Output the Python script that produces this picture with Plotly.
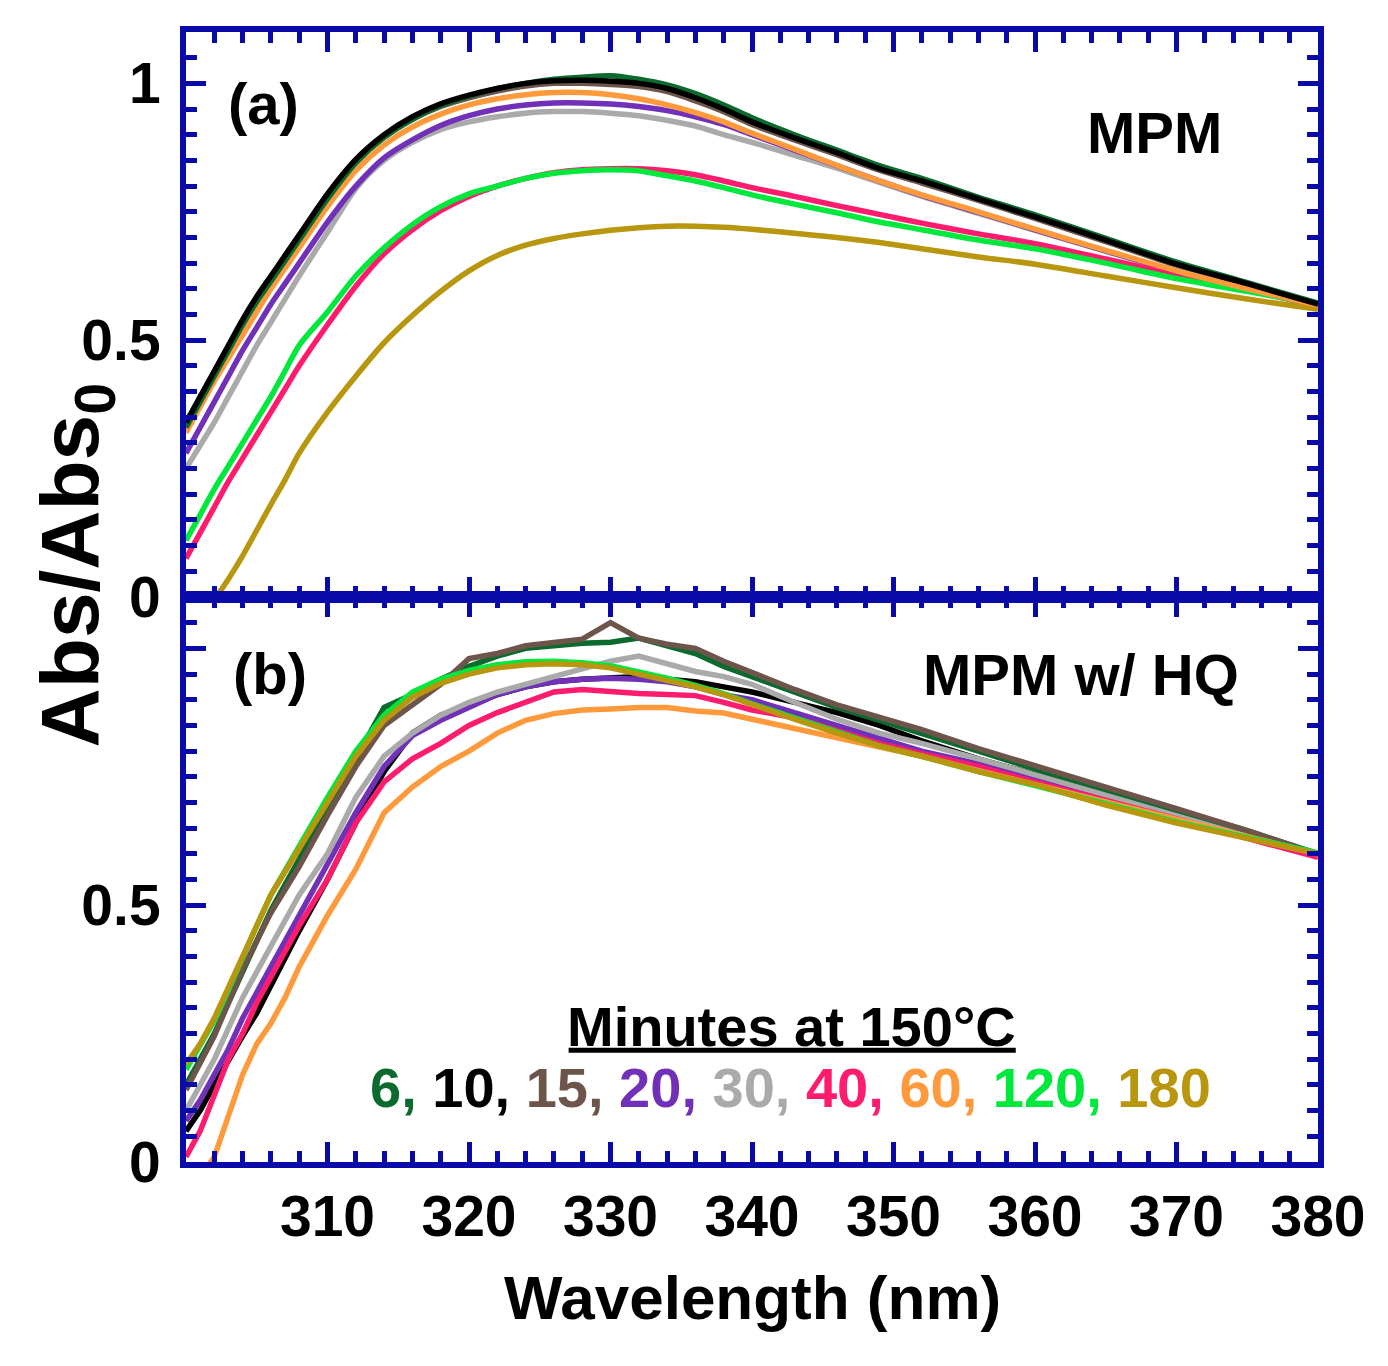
import plotly.graph_objects as go
from plotly.subplots import make_subplots

# Wavelength grid (nm)
wl = [300, 301, 302, 303, 304, 305, 306, 307, 308, 310, 312, 314, 316, 318, 320, 322, 324, 326, 328, 330,
      332, 334, 336, 338, 340, 343, 346, 349, 352, 356, 360, 365, 370, 375, 380]

# ---- Panel (a): MPM ----
a_6 = [0.33, 0.38, 0.43, 0.48, 0.53, 0.575, 0.615, 0.655, 0.695, 0.775, 0.845, 0.895, 0.93, 0.957, 0.975, 0.99, 1.0, 1.008, 1.012, 1.015,
       1.008, 0.997, 0.98, 0.958, 0.933, 0.90, 0.87, 0.84, 0.815, 0.778, 0.744, 0.698, 0.652, 0.612, 0.572]
a_10 = [0.34, 0.39, 0.44, 0.49, 0.54, 0.585, 0.625, 0.665, 0.705, 0.785, 0.852, 0.90, 0.935, 0.96, 0.977, 0.99, 1.0, 1.005, 1.006, 1.004,
        1.0, 0.99, 0.972, 0.95, 0.925, 0.894, 0.865, 0.834, 0.81, 0.775, 0.74, 0.695, 0.648, 0.61, 0.57]
a_15 = [0.335, 0.385, 0.435, 0.485, 0.535, 0.58, 0.62, 0.66, 0.70, 0.78, 0.847, 0.895, 0.93, 0.955, 0.972, 0.985, 0.995, 1.0, 1.0, 0.998,
        0.994, 0.984, 0.966, 0.945, 0.92, 0.89, 0.861, 0.831, 0.806, 0.772, 0.737, 0.692, 0.646, 0.608, 0.569]
a_20 = [0.28, 0.33, 0.38, 0.43, 0.48, 0.525, 0.57, 0.61, 0.65, 0.73, 0.80, 0.855, 0.89, 0.918, 0.937, 0.95, 0.958, 0.962, 0.962, 0.96,
        0.955, 0.947, 0.935, 0.92, 0.90, 0.87, 0.84, 0.81, 0.782, 0.749, 0.715, 0.674, 0.634, 0.599, 0.567]
a_30 = [0.25, 0.295, 0.34, 0.39, 0.44, 0.49, 0.535, 0.58, 0.625, 0.71, 0.795, 0.85, 0.885, 0.91, 0.925, 0.935, 0.942, 0.945, 0.945, 0.942,
        0.937, 0.928, 0.917, 0.90, 0.885, 0.86, 0.835, 0.807, 0.78, 0.747, 0.714, 0.673, 0.633, 0.598, 0.566]
a_40 = [0.075, 0.125, 0.175, 0.225, 0.27, 0.315, 0.36, 0.405, 0.45, 0.53, 0.605, 0.668, 0.715, 0.752, 0.78, 0.80, 0.815, 0.826, 0.832, 0.834,
        0.834, 0.83, 0.822, 0.81, 0.797, 0.78, 0.762, 0.745, 0.728, 0.707, 0.688, 0.658, 0.627, 0.598, 0.568]
a_60 = [0.32, 0.37, 0.42, 0.465, 0.51, 0.555, 0.60, 0.64, 0.68, 0.76, 0.83, 0.88, 0.915, 0.94, 0.958, 0.97, 0.978, 0.982, 0.982, 0.978,
        0.97, 0.958, 0.943, 0.925, 0.903, 0.872, 0.84, 0.81, 0.783, 0.75, 0.716, 0.675, 0.635, 0.60, 0.568]
a_120 = [0.11, 0.16, 0.21, 0.255, 0.30, 0.345, 0.39, 0.44, 0.49, 0.555, 0.625, 0.68, 0.725, 0.76, 0.785, 0.80, 0.815, 0.825, 0.83, 0.832,
         0.83, 0.82, 0.81, 0.797, 0.783, 0.765, 0.748, 0.73, 0.715, 0.695, 0.678, 0.65, 0.62, 0.595, 0.57]
a_180 = [-0.07, -0.035, -0.005, 0.035, 0.08, 0.13, 0.18, 0.228, 0.28, 0.36, 0.43, 0.495, 0.548, 0.595, 0.635, 0.665, 0.685, 0.698, 0.707, 0.714,
         0.719, 0.722, 0.722, 0.72, 0.716, 0.708, 0.70, 0.69, 0.678, 0.662, 0.648, 0.625, 0.602, 0.58, 0.56]

# ---- Panel (b): MPM w/ HQ ----
b_6 = [0.15, 0.20, 0.25, 0.31, 0.37, 0.43, 0.49, 0.54, 0.59, 0.69, 0.79, 0.885, 0.91, 0.94, 0.965, 0.985, 1.0, 1.005, 1.01, 1.012,
       1.02, 1.005, 0.99, 0.965, 0.945, 0.915, 0.885, 0.86, 0.835, 0.80, 0.765, 0.725, 0.685, 0.645, 0.60]
b_10 = [0.06, 0.10, 0.15, 0.20, 0.245, 0.29, 0.345, 0.40, 0.45, 0.55, 0.66, 0.76, 0.835, 0.87, 0.89, 0.91, 0.925, 0.935, 0.94, 0.943,
        0.945, 0.94, 0.935, 0.925, 0.915, 0.895, 0.875, 0.85, 0.82, 0.785, 0.755, 0.715, 0.675, 0.637, 0.60]
b_15 = [0.14, 0.19, 0.245, 0.31, 0.375, 0.43, 0.485, 0.53, 0.575, 0.675, 0.77, 0.85, 0.89, 0.93, 0.98, 0.99, 1.005, 1.012, 1.018, 1.05,
        1.02, 1.008, 1.0, 0.975, 0.952, 0.92, 0.89, 0.865, 0.842, 0.805, 0.772, 0.73, 0.688, 0.645, 0.60]
b_20 = [0.08, 0.12, 0.17, 0.22, 0.28, 0.33, 0.38, 0.43, 0.48, 0.575, 0.68, 0.77, 0.83, 0.86, 0.885, 0.91, 0.925, 0.935, 0.94, 0.942,
        0.94, 0.935, 0.925, 0.91, 0.90, 0.875, 0.848, 0.823, 0.80, 0.775, 0.748, 0.71, 0.672, 0.635, 0.598]
b_30 = [0.10, 0.15, 0.20, 0.26, 0.32, 0.37, 0.42, 0.47, 0.52, 0.60, 0.71, 0.79, 0.835, 0.87, 0.895, 0.915, 0.93, 0.945, 0.96, 0.975,
        0.985, 0.97, 0.955, 0.945, 0.93, 0.895, 0.862, 0.835, 0.815, 0.785, 0.755, 0.715, 0.675, 0.638, 0.60]
b_40 = [0.01, 0.06, 0.13, 0.20, 0.25, 0.31, 0.36, 0.41, 0.46, 0.55, 0.66, 0.74, 0.785, 0.815, 0.85, 0.875, 0.895, 0.915, 0.92, 0.915,
        0.912, 0.91, 0.908, 0.895, 0.88, 0.865, 0.84, 0.815, 0.795, 0.77, 0.74, 0.705, 0.668, 0.63, 0.593]
b_60 = [-0.06, -0.03, 0.01, 0.09, 0.17, 0.23, 0.27, 0.32, 0.38, 0.48, 0.57, 0.68, 0.73, 0.77, 0.80, 0.835, 0.86, 0.873, 0.88, 0.882,
        0.885, 0.885, 0.878, 0.874, 0.862, 0.845, 0.828, 0.81, 0.79, 0.762, 0.735, 0.70, 0.665, 0.632, 0.60]
b_120 = [0.18, 0.225, 0.275, 0.335, 0.40, 0.46, 0.52, 0.57, 0.615, 0.71, 0.80, 0.87, 0.915, 0.94, 0.957, 0.968, 0.974, 0.975, 0.972, 0.966,
         0.955, 0.942, 0.928, 0.912, 0.892, 0.864, 0.836, 0.81, 0.79, 0.76, 0.733, 0.697, 0.662, 0.632, 0.602]
b_180 = [0.19, 0.23, 0.28, 0.34, 0.40, 0.46, 0.52, 0.565, 0.61, 0.70, 0.79, 0.86, 0.905, 0.932, 0.95, 0.962, 0.968, 0.97, 0.968, 0.962,
         0.95, 0.938, 0.925, 0.91, 0.89, 0.862, 0.835, 0.81, 0.79, 0.76, 0.735, 0.695, 0.66, 0.63, 0.60]

minutes = ["6", "10", "15", "20", "30", "40", "60", "120", "180"]
colors = {"6": "#0B6B2E", "10": "#000000", "15": "#6E554C", "20": "#7030B8", "30": "#AAAAAA",
          "40": "#FF1C6E", "60": "#FF9A3C", "120": "#00E83C", "180": "#B8960E"}

series_a = {"6": a_6, "10": a_10, "15": a_15, "20": a_20, "30": a_30, "40": a_40, "60": a_60, "120": a_120, "180": a_180}
series_b = {"6": b_6, "10": b_10, "15": b_15, "20": b_20, "30": b_30, "40": b_40, "60": b_60, "120": b_120, "180": b_180}

order_a = ["30", "20", "40", "120", "180", "15", "60", "6", "10"]
order_b = ["10", "20", "30", "40", "6", "15", "60", "120", "180"]

FONT = "Liberation Sans, Arial, sans-serif"
BLUE = "#0A0AA8"

fig = make_subplots(rows=2, cols=1, shared_xaxes=True, vertical_spacing=0.0)

for m in order_a:
    fig.add_trace(go.Scatter(x=wl, y=series_a[m], mode="lines", line=dict(color=colors[m], width=5.5, shape="spline", smoothing=0.8),
                             showlegend=False, name=m + " min"), row=1, col=1)
for m in order_b:
    fig.add_trace(go.Scatter(x=wl, y=series_b[m], mode="lines", line=dict(color=colors[m], width=5.5),
                             showlegend=False, name=m + " min"), row=2, col=1)

tickfont = dict(family=FONT, size=57, color="black", weight="bold")
xcommon = dict(range=[300, 380], tickvals=[310, 320, 330, 340, 350, 360, 370, 380], ticks="inside", ticklen=20, tickwidth=5,
               tickcolor=BLUE, showline=True, linewidth=6, linecolor=BLUE, mirror="ticks", showgrid=False, zeroline=False,
               minor=dict(dtick=2, tick0=300, ticks="inside", ticklen=11, tickwidth=5, tickcolor=BLUE, showgrid=False))
ycommon = dict(range=[0, 1.1], ticks="inside", ticklen=20, tickwidth=5, tickcolor=BLUE, showline=True, linewidth=6,
               linecolor=BLUE, mirror="ticks", showgrid=False, zeroline=False, tickfont=tickfont, ticklabelstandoff=8,
               minor=dict(dtick=0.05, tick0=0, ticks="inside", ticklen=11, tickwidth=5, tickcolor=BLUE, showgrid=False))

fig.update_xaxes(**xcommon, row=1, col=1, showticklabels=False)
fig.update_xaxes(**xcommon, row=2, col=1, showticklabels=True, tickfont=tickfont)
fig.update_yaxes(**ycommon, row=1, col=1, tickvals=[0, 0.5, 1], ticktext=["0", "0.5", "1"])
fig.update_yaxes(**ycommon, row=2, col=1, tickvals=[0, 0.5, 1], ticktext=["0", "0.5", " "])

def ann(text, x, y, size, **kw):
    fig.add_annotation(text=text, x=x, y=y, xref="paper", yref="paper", showarrow=False,
                       font=dict(family=FONT, size=size, color=kw.pop("color", "black"), weight="bold"),
                       xanchor=kw.pop("xanchor", "center"), yanchor=kw.pop("yanchor", "middle"), **kw)

ann("(a)", 0.0689, 0.937, 58)
ann("MPM", 0.856, 0.911, 58)
ann("(b)", 0.074, 0.432, 58)
ann("MPM w/ HQ", 0.791, 0.431, 58)
ann("Minutes at 150°C", 0.535, 0.120, 56)
# underline under the legend heading
fig.add_shape(type="line", xref="paper", yref="paper", x0=0.338, x1=0.733, y0=0.099, y1=0.099,
              line=dict(color="black", width=5))
legend_text = "".join(
    f"<span style='color:{colors[m]}'>{m}{',' if i < len(minutes) - 1 else ''}</span>" + (" " if i < len(minutes) - 1 else "")
    for i, m in enumerate(minutes))
ann(legend_text, 0.534, 0.0655, 56)
ann("Abs/Abs<sub>0</sub>", -0.098, 0.528, 82, textangle=-90)
ann("Wavelength (nm)", 0.5, -0.12, 62)

fig.update_layout(width=1388, height=1366, margin=dict(l=178, r=78, t=24, b=212),
                  plot_bgcolor="white", paper_bgcolor="white", showlegend=False)

fig.write_html("out.html")
